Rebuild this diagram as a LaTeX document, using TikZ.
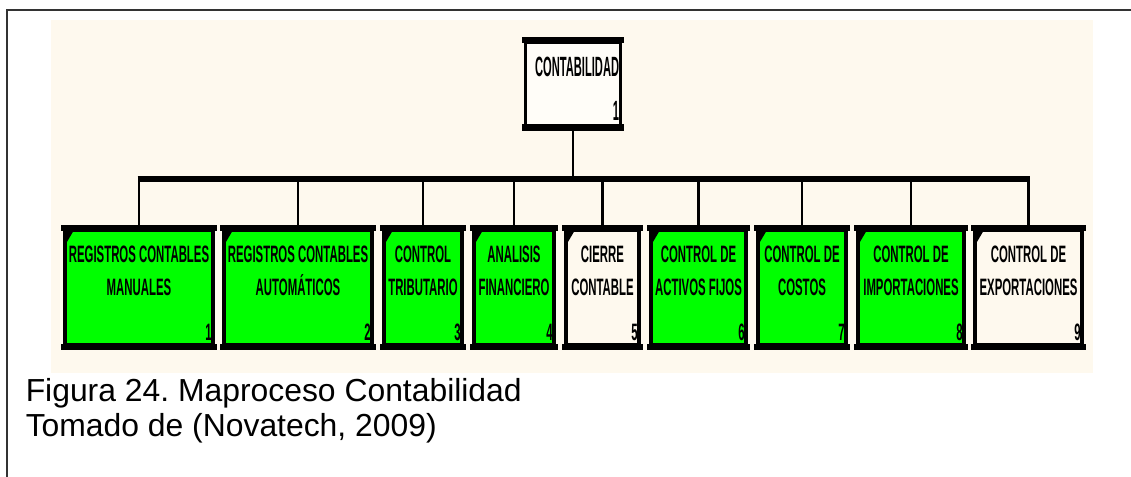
\documentclass[tikz,border=0pt]{standalone}
\usepackage{fontspec}
\setmainfont{Liberation Sans}
\newfontfamily\boxfont[FakeStretch=0.48]{Liberation Sans}
\newfontfamily\rootfont[FakeStretch=0.40]{Liberation Sans}
\usetikzlibrary{calc}
\definecolor{paper}{HTML}{FEF9EE}
\definecolor{rootfill}{HTML}{FFFDF8}
\definecolor{procgreen}{HTML}{00FF00}
\definecolor{framegray}{HTML}{333333}
\frenchspacing

\begin{document}
\begin{tikzpicture}[x=0.75pt,y=-0.75pt,
  procbox/.style={draw=black, line width=3pt, line join=miter, inner sep=0pt,
    minimum height=86.25pt},
  rootbox/.style={draw=black, line width=2.8pt, fill=rootfill, inner sep=0pt,
    minimum width=71.25pt, minimum height=62.625pt},
  edgebar/.style={line width=4.875pt},
  cornermark/.style={fill=black},
  boxlabel/.style={inner sep=0pt, align=center,
    font=\boxfont\bfseries\fontsize{17.8}{24.75}\selectfont},
  boxnum/.style={inner sep=0pt, font=\boxfont\bfseries\fontsize{17.8}{24.75}\selectfont},
  rootlabel/.style={inner sep=0pt, font=\rootfont\bfseries\fontsize{20.9}{26}\selectfont},
  drop/.style={line width=2pt},
  busline/.style={line width=4.5pt},
  caption/.style={inner sep=0pt, align=left, font=\fontsize{23.9}{26.25}\selectfont},
  frameline/.style={draw=framegray, line width=1.1pt}]

\useasboundingbox (0,0) rectangle (1131,477);

% page frame and tinted panel
\draw[frameline] (1131,10) -- (7,10) -- (7,477);
\fill[paper] (51,20) rectangle (1093,373);

% bus level
\coordinate (bus) at (0,179.5);

% top process
\node[rootbox] (root) at (573,83.75) {};
\draw[edgebar] ($(root.north west)+(-1.5,0)$) -- ($(root.north east)+(1.5,0)$);
\draw[edgebar] ($(root.south west)+(-1.5,0)$) -- ($(root.south east)+(1.5,0)$);
\node[rootlabel, anchor=north east] (root-t) at ($(root.north east)+(-3,17)$) {CONTABILIDAD};
\node[rootlabel, anchor=base east] (root-k) at ($(root.south east)+(-3,-6.5)$) {1};
\draw[drop] (root.south) -- (root.south |- bus);

% sub-processes
\foreach \n/\l/\r/\fc/\la/\lb/\k in {
  c1/65/213/procgreen/REGISTROS CONTABLES/MANUALES/1,
  c2/224/372/procgreen/REGISTROS CONTABLES/AUTOMÁTICOS/2,
  c3/384/462/procgreen/CONTROL/TRIBUTARIO/3,
  c4/474/554/procgreen/ANALISIS/FINANCIERO/4,
  c5/566/639/paper/CIERRE/CONTABLE/5,
  c6/651/746/procgreen/CONTROL DE/ACTIVOS FIJOS/6,
  c7/758/846/procgreen/CONTROL DE/COSTOS/7,
  c8/858/964/procgreen/CONTROL DE/IMPORTACIONES/8,
  c9/975/1082/paper/CONTROL DE/EXPORTACIONES/9}{
  \pgfmathsetmacro\w{(\r-\l)*0.75}
  \pgfmathsetmacro\cx{(\l+\r)/2}
  \node[procbox, fill=\fc, minimum width=\w pt] (\n) at (\cx,287.5) {};
  \draw[edgebar] ($(\n.north west)+(-2,0)$) -- ($(\n.north east)+(2,0)$);
  \draw[edgebar] ($(\n.south west)+(-2,0)$) -- ($(\n.south east)+(2,0)$);
  \path[cornermark] ($(\n.north west)+(1,2)$) -- ($(\n.north west)+(11,2)$)
    -- ($(\n.north west)+(1,19)$) -- cycle;
  \node[boxlabel, anchor=north] (\n-t) at ($(\n.north)+(0,18)$) {\la\\\lb};
  \node[boxnum, anchor=base east] (\n-k) at ($(\n.south east)+(-3,-7)$) {\k};
  \draw[drop] (\n.north) -- (\n.north |- bus);
}

\draw[busline] ($(c1.north |- bus)+(-1.5,0)$) -- ($(c9.north |- bus)+(1.5,0)$);

% caption
\node[caption, anchor=north west] (cap) at (25.5,378.5)
  {Figura 24. Maproceso Contabilidad\\Tomado de (Novatech, 2009)};
\end{tikzpicture}
\end{document}
